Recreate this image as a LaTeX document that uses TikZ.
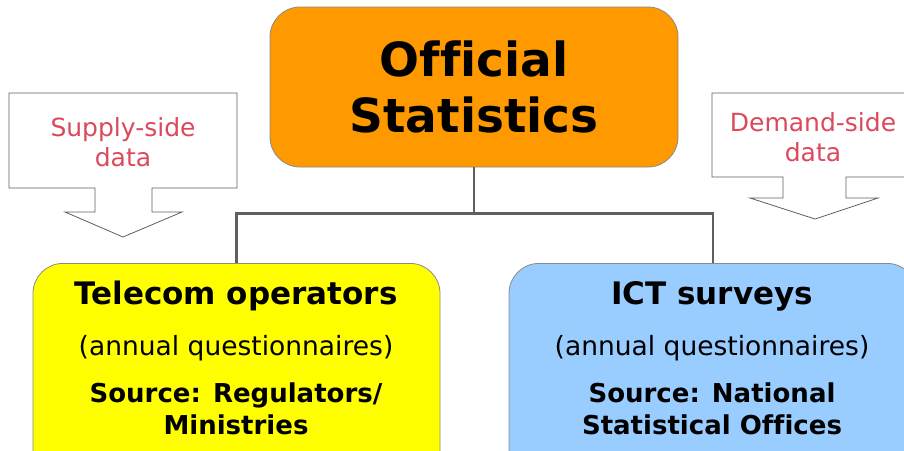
\documentclass[tikz,border=0pt]{standalone}
\usepackage{fontspec}
\setmainfont[Ligatures=NoCommon]{DejaVu Sans}
\usetikzlibrary{positioning}

\definecolor{statorange}{HTML}{FF9900}
\definecolor{telyellow}{HTML}{FFFF00}
\definecolor{ictblue}{HTML}{99CCFF}
\definecolor{sidered}{RGB}{220,72,92}
\definecolor{linkgray}{HTML}{5F5F5F}
\definecolor{edgegray}{HTML}{8A8A8A}

\begin{document}
\begin{tikzpicture}[x=1pt,y=-1pt,
  box/.style={draw=edgegray, line width=0.8pt, rounded corners=30pt, inner sep=0pt},
  link/.style={draw=linkgray, line width=2.8pt},
  callout/.style={draw=linkgray, line width=0.8pt, fill=white},
  sidetext/.style={text=sidered, align=center, font=\fontsize{25}{30}\selectfont},
  head/.style={font=\bfseries\fontsize{31}{34}\selectfont},
  note/.style={font=\fontsize{26.5}{30}\selectfont},
  source/.style={align=center, font=\bfseries\fontsize{26}{32}\selectfont}]

  \useasboundingbox (0,0) rectangle (904,450);
  \clip (0,0) rectangle (904,450);

  % Top: official statistics

  \node [box, fill=statorange, minimum width=408pt, minimum height=160pt,
         align=center, font=\bfseries\fontsize{47}{56}\selectfont]
    (stats) at (474,87) {Official\\Statistics};

  % Sources of the data

  \node [box, fill=telyellow, anchor=north, minimum width=407pt, minimum height=220pt]
    (tel) at (236.5,263) {};
  \node [head] (telhead) at (236,296) {Telecom operators};
  \node [note] (telnote) at (236,348) {(annual questionnaires)};
  \node [source] (telsrc) at (236,409) {Source: Regulators/\\Ministries};

  \node [box, fill=ictblue, anchor=north, minimum width=408pt, minimum height=220pt]
    (ict) at (713,263) {};
  \node [head] (icthead) at (712,296) {ICT surveys};
  \node [note] (ictnote) at (712,348) {(annual questionnaires)};
  \node [source] (ictsrc) at (712,409) {Source: National\\Statistical Offices};

  % Connections

  \draw [link] (stats.south) -- ++(0,46) coordinate (split);
  \draw [link] (split) -| (tel.north);
  \draw [link] (split) -| (ict.north);

  % Supply side and demand side callouts

  \draw [callout] (9,93) -- (237,93) -- (237,188) -- (152,188) -- (152,212)
    -- (182,212) -- (123,237) -- (65,212) -- (95,212) -- (95,188) -- (9,188) -- cycle;
  \node [sidetext] (supply) at (123,142) {Supply-side\\data};

  \draw [callout] (712,93) -- (917,93) -- (917,177) -- (846,177) -- (846,198)
    -- (878,198) -- (815,219) -- (750,198) -- (783,198) -- (783,177) -- (712,177) -- cycle;
  \node [sidetext] (demand) at (813,137) {Demand-side\\data};
\end{tikzpicture}
\end{document}
